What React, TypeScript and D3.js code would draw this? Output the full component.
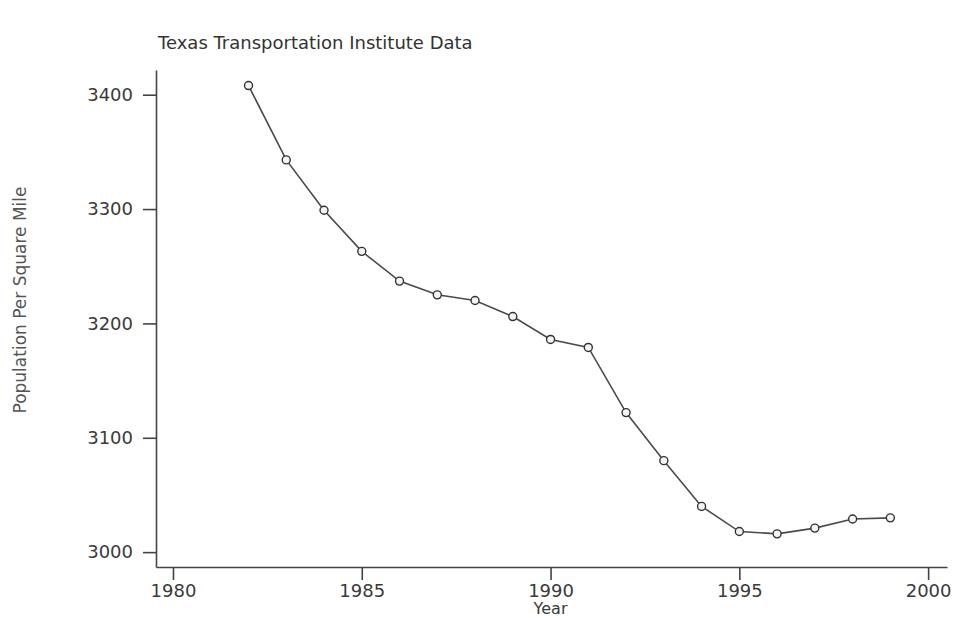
import { useRef, useEffect } from 'react';
import * as d3 from 'd3';

const years = [1982, 1983, 1984, 1985, 1986, 1987, 1988, 1989, 1990, 1991, 1992, 1993, 1994, 1995, 1996, 1997, 1998, 1999];
const density = [3408, 3343, 3299, 3263, 3237, 3225, 3220, 3206, 3186, 3179, 3122, 3080, 3040, 3018, 3016, 3021, 3029, 3030];
const xTicks = [1980, 1985, 1990, 1995, 2000];
const yTicks = [3000, 3100, 3200, 3300, 3400];

const title = 'Texas Transportation Institute Data';
const xTitle = 'Year';
const yTitle = 'Population Per Square Mile';

const App = () => {
  const svgRef = useRef<SVGSVGElement>(null);

  useEffect(() => {
    if (!svgRef.current) return;
    const width = 973;
    const height = 619;
    const margin = { top: 70, right: 26, bottom: 52, left: 156 };
    const font = '"DejaVu Sans", Verdana, sans-serif';

    const svg = d3.select(svgRef.current)
      .attr('width', width)
      .attr('height', height)
      .attr('viewBox', `0 0 ${width} ${height}`);

    svg.selectAll('*').remove();

    const data = years.map((y, i) => ({ year: y, value: density[i] }));

    const x = d3.scaleLinear()
      .domain([1979.55, 2000.5])
      .range([margin.left, width - margin.right]);

    const y = d3.scaleLinear()
      .domain([2987, 3421.6])
      .range([height - margin.bottom, margin.top]);

    const xAxis = svg.append('g')
      .attr('transform', `translate(0,${height - margin.bottom})`)
      .call(d3.axisBottom(x).tickValues(xTicks).tickFormat(d3.format('d')).tickSize(13).tickSizeOuter(0).tickPadding(4));

    const yAxis = svg.append('g')
      .attr('transform', `translate(${margin.left},0)`)
      .call(d3.axisLeft(y).tickValues(yTicks).tickFormat(d3.format('d')).tickSize(13).tickSizeOuter(0).tickPadding(10));

    [xAxis, yAxis].forEach(g => {
      g.attr('font-family', font).attr('font-size', 18);
      g.select('.domain').attr('stroke', '#444').attr('stroke-width', 1.6);
      g.selectAll('.tick line').attr('stroke', '#444').attr('stroke-width', 1.6);
      g.selectAll('.tick text').attr('fill', '#3a3a3a');
    });

    const line = d3.line<{ year: number; value: number }>()
      .x(d => x(d.year))
      .y(d => y(d.value));

    svg.append('path')
      .datum(data)
      .attr('fill', 'none')
      .attr('stroke', '#4a4a4a')
      .attr('stroke-width', 1.6)
      .attr('d', line);

    svg.selectAll('.dot')
      .data(data)
      .join('circle')
      .attr('cx', d => x(d.year))
      .attr('cy', d => y(d.value))
      .attr('r', 4)
      .attr('fill', '#f4f4f4')
      .attr('stroke', '#333')
      .attr('stroke-width', 1.4);

    svg.append('text')
      .attr('x', 158)
      .attr('y', 49)
      .attr('font-family', font)
      .attr('font-size', 18)
      .attr('fill', '#333')
      .text(title);

    svg.append('text')
      .attr('x', x(1990))
      .attr('y', 614)
      .attr('text-anchor', 'middle')
      .attr('font-family', font)
      .attr('font-size', 16)
      .attr('fill', '#3a3a3a')
      .text(xTitle);

    svg.append('text')
      .attr('transform', 'translate(26,300) rotate(-90)')
      .attr('text-anchor', 'middle')
      .attr('font-family', font)
      .attr('font-size', 17)
      .attr('fill', '#555')
      .text(yTitle);

    return () => { svg.selectAll('*').remove(); };
  }, []);

  return <svg ref={svgRef} style={{ position: 'fixed', left: 0, top: 0, background: '#fff' }} />;
};

export default App;
